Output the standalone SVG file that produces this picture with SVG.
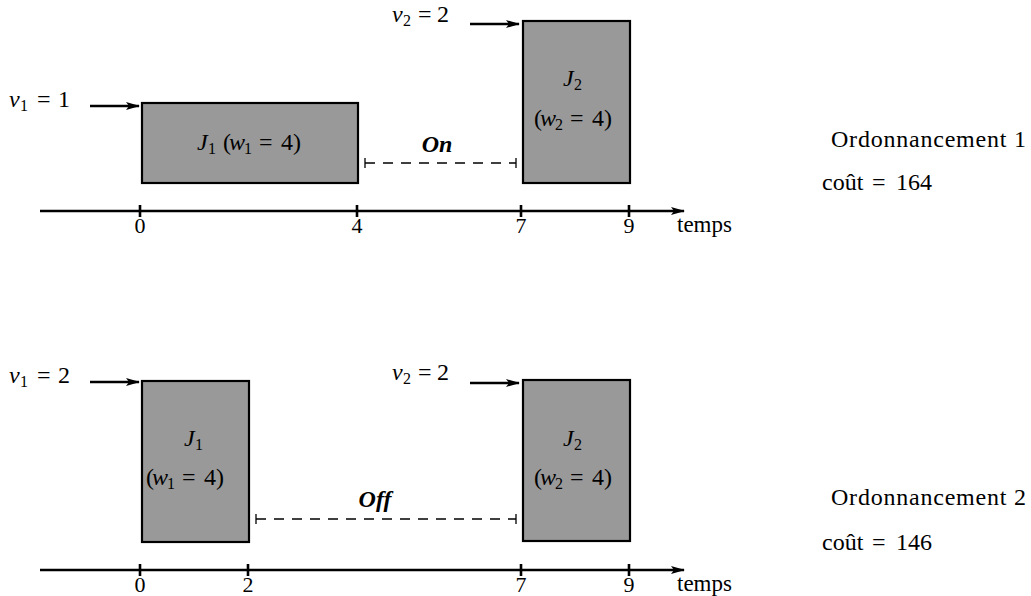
<svg xmlns="http://www.w3.org/2000/svg" width="1031" height="596" viewBox="0 0 1031 596" font-family="Liberation Serif">
<style>
text{font-size:24px;fill:#000}
.i{font-style:italic}
.s{font-size:16px}
.d{font-size:22px}
.t{font-size:23px}
.b{font-weight:bold;font-style:italic}
.box{fill:#999;stroke:#000;stroke-width:2.2}
.ax{stroke:#000;stroke-width:2.6;fill:none}
.tk{stroke:#000;stroke-width:2.6}
.ar{stroke:#000;stroke-width:2.4;fill:none}
.da{stroke:#000;stroke-width:1.3;stroke-dasharray:10,8;fill:none}
.cap{stroke:#000;stroke-width:1.3}
.m{text-anchor:middle}
</style>
<defs>
<marker id="ah" markerWidth="14" markerHeight="10" refX="13" refY="5" orient="auto" markerUnits="userSpaceOnUse">
<path d="M0,1 L14,5 L0,9 L3,5 Z" fill="#000"/>
</marker>
</defs>

<g id="connectors">
<line class="ax" x1="40" y1="211" x2="684" y2="211" marker-end="url(#ah)"/>
<line class="tk" x1="140" y1="205" x2="140" y2="217"/>
<line class="tk" x1="357" y1="205" x2="357" y2="217"/>
<line class="tk" x1="521" y1="205" x2="521" y2="217"/>
<line class="tk" x1="629" y1="205" x2="629" y2="217"/>
<line class="ax" x1="40" y1="570" x2="684" y2="570" marker-end="url(#ah)"/>
<line class="tk" x1="140" y1="564" x2="140" y2="576"/>
<line class="tk" x1="248" y1="564" x2="248" y2="576"/>
<line class="tk" x1="521" y1="564" x2="521" y2="576"/>
<line class="tk" x1="629" y1="564" x2="629" y2="576"/>
<line class="ar" x1="90" y1="106" x2="139" y2="106" marker-end="url(#ah)"/>
<line class="ar" x1="470" y1="24" x2="519" y2="24" marker-end="url(#ah)"/>
<line class="ar" x1="90" y1="382" x2="139" y2="382" marker-end="url(#ah)"/>
<line class="ar" x1="470" y1="383" x2="519" y2="383" marker-end="url(#ah)"/>
<line class="da" x1="365" y1="163" x2="516" y2="163"/>
<line class="cap" x1="365" y1="158" x2="365" y2="168"/>
<line class="cap" x1="516" y1="158" x2="516" y2="168"/>
<line class="da" x1="256" y1="519" x2="516" y2="519"/>
<line class="cap" x1="256" y1="514" x2="256" y2="524"/>
<line class="cap" x1="516" y1="514" x2="516" y2="524"/>
</g>

<g id="axis-labels" font-family="Liberation Serif">
<text class="m d" x="140" y="233">0</text>
<text class="m d" x="357" y="233">4</text>
<text class="m d" x="521" y="233">7</text>
<text class="m d" x="629" y="233">9</text>
<text class="t" x="677" y="232">temps</text>
<text class="m d" x="140" y="592">0</text>
<text class="m d" x="248" y="592">2</text>
<text class="m d" x="521" y="592">7</text>
<text class="m d" x="629" y="592">9</text>
<text class="t" x="677" y="591">temps</text>
<text class="b m" x="437" y="152">On</text>
<text class="b m" x="375" y="507">Off</text>
</g>

<g id="v1-top" font-family="Liberation Serif"><text y="107"><tspan class="i" x="9">v</tspan><tspan class="s" x="20" dy="4">1</tspan><tspan x="37" dy="-4">=</tspan><tspan x="58">1</tspan></text></g>
<g id="v2-top" font-family="Liberation Serif"><text y="22"><tspan class="i" x="392">v</tspan><tspan class="s" x="403" dy="4">2</tspan><tspan x="418" dy="-4">=</tspan><tspan x="437">2</tspan></text></g>
<g id="v1-bot" font-family="Liberation Serif"><text y="383"><tspan class="i" x="9">v</tspan><tspan class="s" x="20" dy="4">1</tspan><tspan x="37" dy="-4">=</tspan><tspan x="58">2</tspan></text></g>
<g id="v2-bot" font-family="Liberation Serif"><text y="380"><tspan class="i" x="392">v</tspan><tspan class="s" x="403" dy="4">2</tspan><tspan x="418" dy="-4">=</tspan><tspan x="437">2</tspan></text></g>

<g id="J1-top" font-family="Liberation Serif">
<rect class="box" x="142" y="103" width="216" height="80"/>
<text y="150"><tspan class="i" x="197">J</tspan><tspan class="s" x="208" dy="4">1</tspan><tspan x="223" dy="-4">(</tspan><tspan class="i" x="229">w</tspan><tspan class="s" x="244" dy="4">1</tspan><tspan x="259" dy="-4">=</tspan><tspan x="281">4)</tspan></text>
</g>
<g id="J2-top" font-family="Liberation Serif">
<rect class="box" x="523" y="21" width="107" height="162"/>
<text y="86"><tspan class="i" x="563">J</tspan><tspan class="s" x="574" dy="4">2</tspan></text>
<text y="126"><tspan x="534">(</tspan><tspan class="i" x="540">w</tspan><tspan class="s" x="555" dy="4">2</tspan><tspan x="570" dy="-4">=</tspan><tspan x="592">4)</tspan></text>
</g>
<g id="J1-bot" font-family="Liberation Serif">
<rect class="box" x="142" y="381" width="107" height="161"/>
<text y="446"><tspan class="i" x="184">J</tspan><tspan class="s" x="195" dy="4">1</tspan></text>
<text y="485"><tspan x="146">(</tspan><tspan class="i" x="152">w</tspan><tspan class="s" x="167" dy="4">1</tspan><tspan x="182" dy="-4">=</tspan><tspan x="204">4)</tspan></text>
</g>
<g id="J2-bot" font-family="Liberation Serif">
<rect class="box" x="523" y="380" width="107" height="161"/>
<text y="446"><tspan class="i" x="563">J</tspan><tspan class="s" x="574" dy="4">2</tspan></text>
<text y="485"><tspan x="534">(</tspan><tspan class="i" x="540">w</tspan><tspan class="s" x="555" dy="4">2</tspan><tspan x="570" dy="-4">=</tspan><tspan x="592">4)</tspan></text>
</g>

<g id="sched1" font-family="Liberation Serif">
<text x="831" y="147" textLength="195" lengthAdjust="spacing">Ordonnancement 1</text>
<text y="190"><tspan x="822">coût</tspan><tspan x="872">=</tspan><tspan x="896">164</tspan></text>
</g>
<g id="sched2" font-family="Liberation Serif">
<text x="831" y="505" textLength="195" lengthAdjust="spacing">Ordonnancement 2</text>
<text y="550"><tspan x="822">coût</tspan><tspan x="872">=</tspan><tspan x="896">146</tspan></text>
</g>
</svg>
